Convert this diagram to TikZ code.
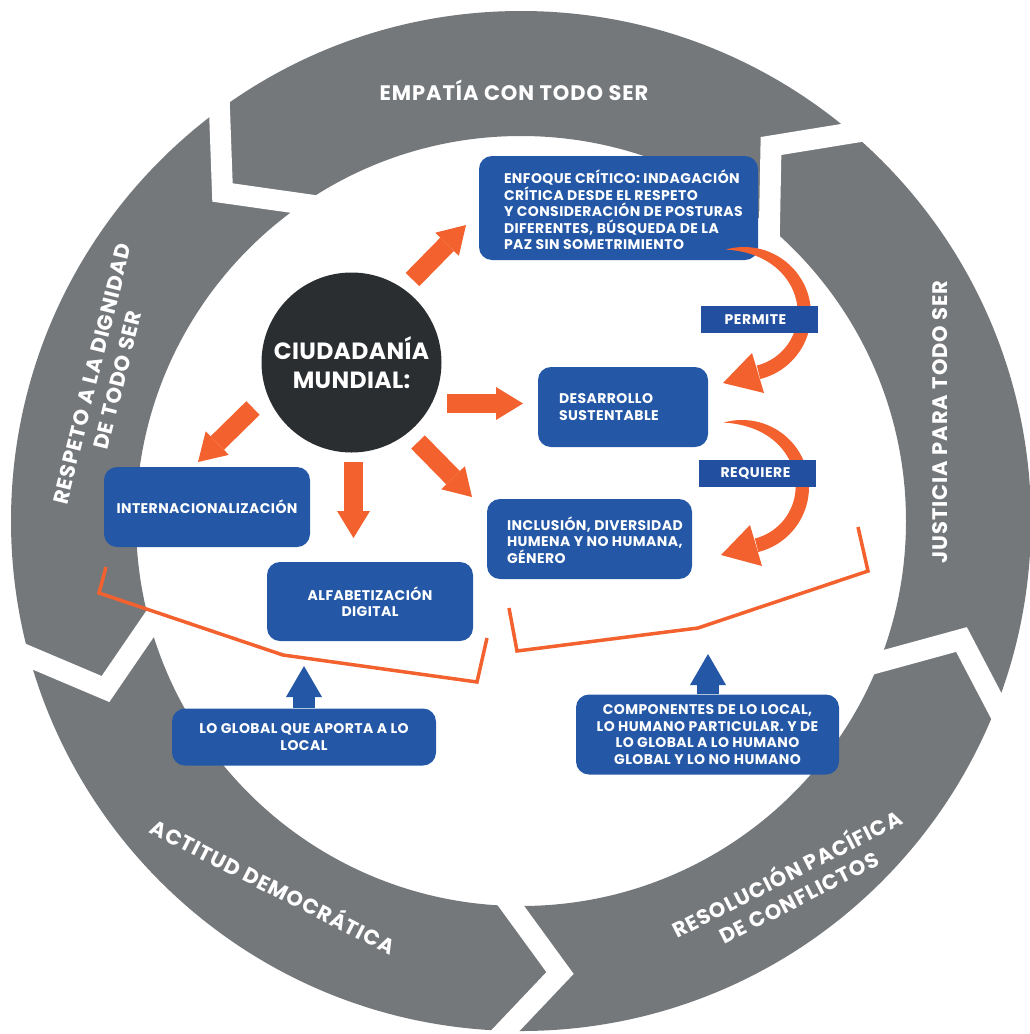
\documentclass[tikz,border=0pt]{standalone}
\usepackage{fontspec}
\setmainfont{Poppins}
\usetikzlibrary{arrows.meta}

\definecolor{ringgray}{RGB}{117,120,123}
\definecolor{boxblue}{RGB}{36,88,166}
\definecolor{tagblue}{RGB}{34,79,160}
\definecolor{arrorange}{RGB}{242,97,46}
\definecolor{circdark}{RGB}{43,46,49}

\tikzset{
	bluebox/.style={fill=boxblue, rounded corners=13pt, inner sep=0pt},
	boxtext/.style={text=white, font=\bfseries\fontsize{14}{16.4}\selectfont\addfontfeatures{LetterSpace=3}, inner sep=0pt},
	tagbox/.style={fill=tagblue, text=white, font=\bfseries\fontsize{14}{16}\selectfont\addfontfeatures{LetterSpace=4}, minimum width=117pt, minimum height=27pt, inner sep=0pt},
	ringtext/.style={text=white, font=\bfseries\fontsize{21}{26.5}\selectfont\addfontfeatures{LetterSpace=4.5}, align=center, inner sep=0pt},
	orangearr/.style={arrorange, line width=19pt, -{Triangle[width=33pt,length=27pt,line width=0pt]}},
	bluearr/.style={boxblue, line width=22pt, -{Triangle[width=36pt,length=31pt,line width=0pt]}},
	ringcut/.style={white, line width=21pt, miter limit=10},
	bracket/.style={arrorange, line width=3.5pt},
}

\begin{document}
\begin{tikzpicture}[x=1pt,y=1pt,yscale=-1]
	\useasboundingbox (0,0) rectangle (1029,1034);
	
	%Ring
	\fill [ringgray, even odd rule] (521,521) circle [radius=510] (521,521) circle [radius=385];
	%Cuts between the five parts of the ring
	\draw [ringcut] (218.6,85) -- (222.5,192.5) -- (328,207.5);
	\draw [ringcut] (878.7,128.5) -- (771,146) -- (769,250);
	\draw [ringcut] (1011,734) -- (961.5,639.5) -- (861,667);
	\draw [ringcut] (487,1050) -- (560,973) -- (501,892);
	\draw [ringcut] (4,646) -- (105.5,689) -- (163,605);
	
	% Ring texts
	\node [ringtext] (empatia) at (514,90) {EMPATÍA CON TODO SER};
	\node [ringtext, rotate=90] (justicia) at (940,422) {JUSTICIA PARA TODO SER};
	\node [ringtext, rotate=27] (resolucion) at (792,884) {RESOLUCIÓN PACÍFICA\\DE CONFLICTOS};
	\node [ringtext, rotate=-27] (actitud) at (274,885) {ACTITUD DEMOCRÁTICA};
	\node [ringtext, rotate=76] (respeto) at (105,377) {RESPETO A LA DIGNIDAD\\DE TODO SER};
	
	%Brackets
	\draw [bracket] (106,567) -- (99,593) -- (283,655) -- (477,682) -- (487,638);
	\draw [bracket] (509,608) -- (517,651) -- (698,628) -- (868,571) -- (858,527);
	
	%Centre
	\node [circle, fill=circdark, minimum size=180pt, inner sep=0pt, text=white, align=center, font=\bfseries\fontsize{23.5}{29}\selectfont\addfontfeatures{LetterSpace=1.5}] (ciudadania) at (351.5,362.5) {CIUDADANÍA\\MUNDIAL:};
	
	%Arrows out of the centre
	\coordinate (ctoEnf) at (412.5,279.5);
	\coordinate (enfIn) at (466,225);
	\coordinate (ctoDes) at (447,403.5);
	\coordinate (desIn) at (523,403.5);
	\coordinate (ctoInc) at (418,442);
	\coordinate (incIn) at (472,497);
	\coordinate (ctoAlf) at (353.5,462);
	\coordinate (alfIn) at (353.5,538);
	\coordinate (ctoInt) at (253,408);
	\coordinate (intIn) at (198,462);
	\draw [orangearr] (ctoEnf) -- (enfIn);
	\draw [orangearr] (ctoDes) -- (desIn);
	\draw [orangearr] (ctoInc) -- (incIn);
	\draw [orangearr] (ctoAlf) -- (alfIn);
	\draw [orangearr] (ctoInt) -- (intIn);
	
	%Boxes
	\node [bluebox, minimum width=279pt, minimum height=104pt] (enfoque) at (618.5,208) {};
	\node [boxtext, anchor=west, align=left] (enfoqueTxt) at ([xshift=25pt, yshift=2pt]enfoque.west) {ENFOQUE CRÍTICO: INDAGACIÓN\\CRÍTICA DESDE EL RESPETO\\Y CONSIDERACIÓN DE POSTURAS\\DIFERENTES, BÚSQUEDA DE LA\\PAZ SIN SOMETRIMIENTO};
	\node [bluebox, minimum width=170pt, minimum height=80pt] (desarrollo) at (623,407) {};
	\node [boxtext, anchor=west, align=left] (desarrolloTxt) at ([xshift=21pt]desarrollo.west) {DESARROLLO\\SUSTENTABLE};
	\node [bluebox, minimum width=205pt, minimum height=80pt] (inclusion) at (589.5,539) {};
	\node [boxtext, anchor=west, align=left] (inclusionTxt) at ([xshift=20pt, yshift=1pt]inclusion.west) {INCLUSIÓN, DIVERSIDAD\\HUMENA Y NO HUMANA,\\GÉNERO};
	\node [bluebox, boxtext, minimum width=206pt, minimum height=80pt] (internac) at (207,507) {INTERNACIONALIZACIÓN};
	\node [bluebox, boxtext, align=center, minimum width=206pt, minimum height=79pt] (alfab) at (370,601.5) {ALFABETIZACIÓN\\DIGITAL};
	\node [bluebox, boxtext, align=center, minimum width=264pt, minimum height=57pt] (global) at (304,737) {LO GLOBAL QUE APORTA A LO\\LOCAL};
	\node [bluebox, boxtext, align=center, minimum width=263pt, minimum height=80pt] (compon) at (707.5,734.5) {COMPONENTES DE LO LOCAL,\\LO HUMANO PARTICULAR. Y DE\\LO GLOBAL A LO HUMANO\\GLOBAL Y LO NO HUMANO};
	
	%Bent arrows on the right
	\begin{scope}[shift={(744,314)}]
		\fill [arrorange] plot [domain=-106:76, samples=60] ({67*cos(\x)}, {67*sin(\x)}) -- plot [domain=0:182, samples=60] ({(67-14*(1-exp(-(182-\x)/35)))*cos(\x-76)}, {-(67-14*(1-exp(-(182-\x)/35)))*sin(\x-76)}) -- cycle;
		\fill [arrorange] (8,39) -- (-21,69) -- (20,79) -- cycle;
	\end{scope}
	\begin{scope}[shift={(742,487)}]
		\fill [arrorange] plot [domain=-106:76, samples=60] ({67*cos(\x)}, {67*sin(\x)}) -- plot [domain=0:182, samples=60] ({(67-14*(1-exp(-(182-\x)/35)))*cos(\x-76)}, {-(67-14*(1-exp(-(182-\x)/35)))*sin(\x-76)}) -- cycle;
		\fill [arrorange] (8,38) -- (-21,68) -- (20,79) -- cycle;
	\end{scope}
	\node [tagbox] (permite) at (759.5,319.5) {PERMITE\hspace*{8pt}};
	\node [tagbox] (requiere) at (757.5,473) {REQUIERE\hspace*{4pt}};
	
	%Arrows up to the brackets
	\coordinate (globalUp) at (304,666);
	\coordinate (componUp) at (708,654);
	\draw [bluearr] (global.north) -- (globalUp);
	\draw [bluearr] ([xshift=0.5pt]compon.north) -- (componUp);
\end{tikzpicture}
\end{document}
